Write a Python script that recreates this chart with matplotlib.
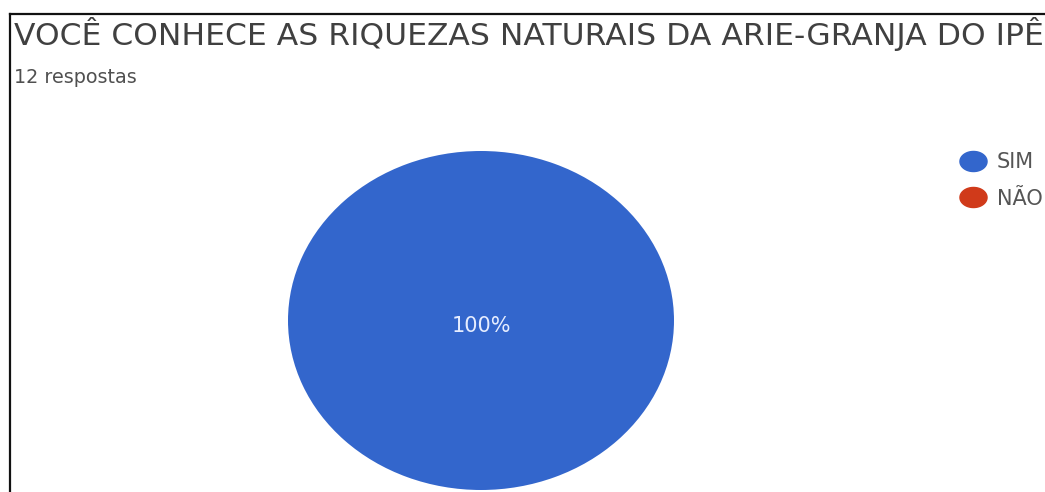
import matplotlib
matplotlib.use("Agg")
import matplotlib.pyplot as plt
import numpy as np
from matplotlib.lines import Line2D
from matplotlib.path import Path

W, H = 1045, 492
title = "VOCÊ CONHECE AS RIQUEZAS NATURAIS DA ARIE-GRANJA DO IPÊ"
subtitle = "12 respostas"
answers = ["SIM", "NÃO"]
counts = [12, 0]
colors = ["#3366cc", "#d03a1a"]

plt.rcParams["font.family"] = ["DejaVu Sans"]
fig = plt.figure(figsize=(W / 100, H / 100), dpi=100)
fig.patch.set_facecolor("white")


def px(x, y):
    # pixel position from the top-left corner -> figure fraction
    return x / W, 1 - y / H


# title runs right up to the edge of the card
t = fig.text(*px(14, 45), title, fontsize=20, color="#404040",
             va="baseline", ha="left")
fig.canvas.draw()
bb = t.get_window_extent()
t.set_fontsize(20 * 1027 / bb.width)

fig.text(*px(14, 83), subtitle, fontsize=13.8, color="#505050",
         va="baseline", ha="left")

# frame lines on top and left
fig.add_artist(Line2D([10 / W, 1], [1 - 14 / H] * 2, color="#111111", lw=1.6))
fig.add_artist(Line2D([10 / W] * 2, [0, 1 - 14 / H], color="#111111", lw=1.6))

# pie, stretched wider than tall
ax = fig.add_axes([288 / W, 2 / H, 386 / W, 339 / H])


def pct(p):
    return f"{p:.0f}%" if p > 0 else ""


wedges, texts, autotexts = ax.pie(counts, colors=colors, startangle=90,
                                  counterclock=False, autopct=pct,
                                  pctdistance=0.0,
                                  textprops=dict(color="#e6edff", fontsize=15))
for a in autotexts:
    a.set_y(-0.03)
ax.set_aspect("auto")
ax.set_xlim(-1, 1)
ax.set_ylim(-1, 1)
ax.axis("off")

# wide oval legend markers
th = np.linspace(0, 2 * np.pi, 60)
oval = Path(np.column_stack([1.35 * np.cos(th), np.sin(th)]), closed=True)
handles = [Line2D([], [], ls="none", marker=oval, markersize=19.5,
                  markerfacecolor=c, markeredgecolor=c) for c in colors]
leg = fig.legend(handles, answers, loc="upper left",
                 bbox_to_anchor=px(963, 152), frameon=False,
                 prop=dict(size=15), labelcolor="#555555",
                 handlelength=1.0, handletextpad=0.62, labelspacing=0.8,
                 borderpad=0, borderaxespad=0)

fig.savefig("out.png", dpi=100, facecolor="white")
